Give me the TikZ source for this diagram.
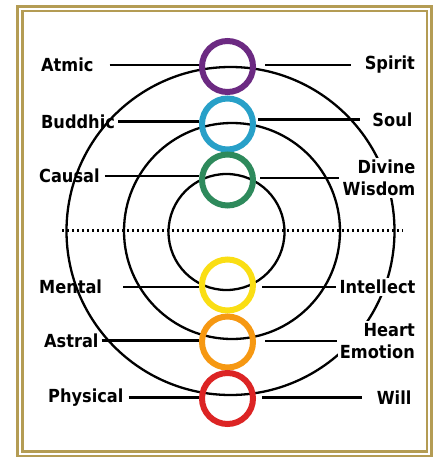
\documentclass[tikz,border=0pt]{standalone}
\usepackage{fontspec}
\setmainfont{DejaVu Sans}[FakeStretch=0.9]
\usepackage{xcolor}
\usepackage{tikz}
\usetikzlibrary{arrows.meta, positioning}
\definecolor{frameGold}{RGB}{180,156,84}
\definecolor{atmicPurple}{RGB}{108,42,130}
\definecolor{buddhicBlue}{RGB}{40,160,200}
\definecolor{causalGreen}{RGB}{46,138,92}
\definecolor{mentalYellow}{RGB}{250,222,20}
\definecolor{astralOrange}{RGB}{246,152,18}
\definecolor{physicalRed}{RGB}{220,36,36}
\def\cx{227.5}
\def\ringSize{51pt}
\def\ringW{6pt}

\begin{document}
\begin{tikzpicture}[
    x=1pt, y=-1pt,
    line width=2.3pt,
    every node/.style={font=\bfseries\fontsize{18}{22.5}\selectfont, inner sep=1pt},
    ring/.style={circle, draw, line width=\ringW, minimum size=\ringSize, inner sep=0pt},
    leftlabel/.style={anchor=west},
    rightlabel/.style={anchor=east, align=right, fill=white, inner sep=2pt},
    dots/.style={line width=2.2pt, dash pattern=on 2.4pt off 2.6pt}
]
\useasboundingbox (0,0) rectangle (433,457);

% frame
\draw[frameGold, line width=2.4pt] (17.5,6.5) rectangle (431.5,455.8);
\draw[frameGold, line width=2.2pt] (22.5,11) rectangle (427,451.5);

% planes
\draw (226.5,232) circle[radius=58pt];
\draw (232,231) circle[radius=108pt];
\draw (230.5,231) circle[radius=164pt];
\draw[dots] (62,230.5) -- (403,230.5);

% chakras
\node[ring, atmicPurple] (ch1) at (\cx,66.5) {};
\node[ring, buddhicBlue] (ch2) at (\cx,124) {};
\node[ring, causalGreen] (ch3) at (\cx,180) {};
\node[ring, mentalYellow] (ch4) at (\cx,285) {};
\node[ring, astralOrange] (ch5) at (\cx,342) {};
\node[ring, physicalRed] (ch6) at (\cx,398.5) {};

% left side
\node[leftlabel] (atmic) at (39,65) {Atmic};
\node[leftlabel] (buddhic) at (39,121.5) {Buddhic};
\node[leftlabel] (causal) at (37,176) {Causal};
\node[leftlabel] (mental) at (37,287) {Mental};
\node[leftlabel] (astral) at (42,340.5) {Astral};
\node[leftlabel] (physical) at (46,397.5) {Physical};

% right side
\node[rightlabel] (spirit) at (418,65) {Spirit};
\node[rightlabel] (soul) at (415.5,119.5) {Soul};
\node[rightlabel] (wisdom) at (418.5,178) {Divine\\Wisdom};
\node[rightlabel] (intellect) at (418.5,287) {Intellect};
\node[rightlabel] (emotion) at (418,341) {Heart\\Emotion};
\node[rightlabel] (will) at (414.5,397.5) {Will};

\draw[shorten <=14pt] (atmic.east) -- (atmic.east -| ch1.west);
\draw[shorten <=1pt] (buddhic.east) -- (buddhic.east -| ch2.west);
\draw[shorten <=3pt] (causal.east) -- (causal.east -| ch3.west);
\draw[shorten <=19pt] (mental.east) -- (mental.east -| ch4.west);
\draw[shorten <=1pt] (astral.east) -- (astral.east -| ch5.west);
\draw[shorten <=3pt] (physical.east) -- (physical.east -| ch6.west);

\draw[shorten <=9pt, shorten >=11pt] (spirit.west -| ch1.east) -- (spirit.west);
\draw[shorten <=2pt, shorten >=9pt] (soul.west -| ch2.east) -- (soul.west);
\draw[shorten <=4pt, shorten >=1pt] (wisdom.west -| ch3.east) -- (wisdom.west);
\draw[shorten <=6pt] (intellect.west -| ch4.east) -- (intellect.west);
\draw[shorten <=9pt] (emotion.west -| ch5.east) -- (emotion.west);
\draw[shorten <=6pt, shorten >=12pt] (will.west -| ch6.east) -- (will.west);
\end{tikzpicture}
\end{document}
